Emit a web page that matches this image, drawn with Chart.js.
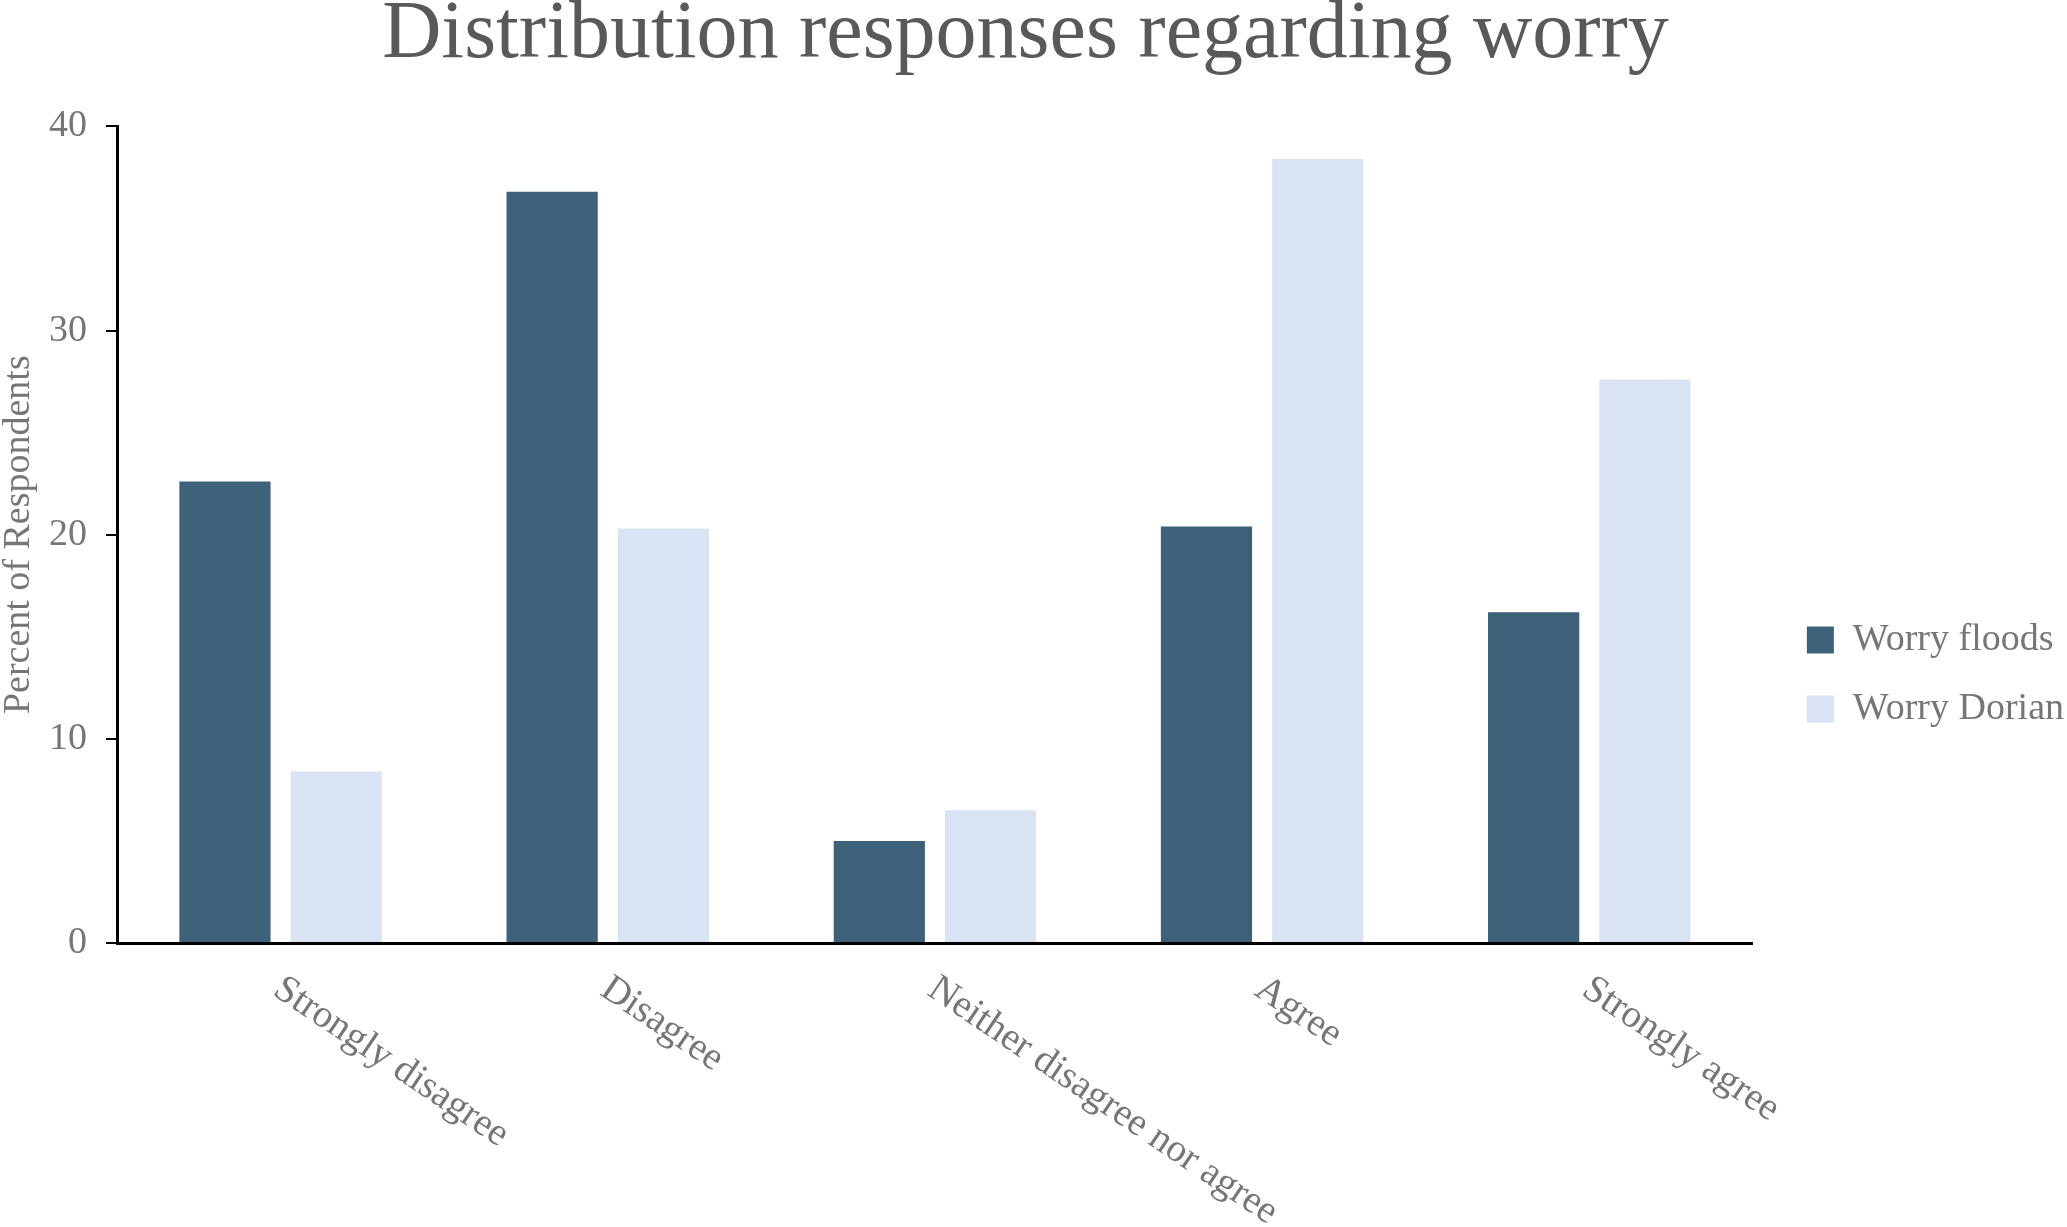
<!DOCTYPE html>
<html>
<head>
<meta charset="utf-8">
<script src="https://cdn.jsdelivr.net/npm/chart.js@4.4.1/dist/chart.umd.min.js"></script>
<style>
  html, body { margin: 0; padding: 0; background: #fff; }
  #wrap { width: 2067px; height: 1227px; }
</style>
</head>
<body>
<div id="wrap"><canvas id="worryChart"></canvas></div>
<script>
// categories and values
const categories = ["Strongly disagree", "Disagree", "Neither disagree nor agree", "Agree", "Strongly agree"];
const worryFloods = [22.6, 36.8, 5.0, 20.4, 16.2];
const worryDorian = [8.4, 20.3, 6.5, 38.4, 27.6];
const yTicks = [0, 10, 20, 30, 40];

const serif = "'Liberation Serif', 'Times New Roman', serif";
const grey = "#767676";

// x labels run down-right from the tick, which chart.js can't do on its own
const slantedLabels = {
  id: "slantedLabels",
  afterDraw(chart) {
    const ctx = chart.ctx;
    const xs = chart.scales.x;
    const angle = 34 * Math.PI / 180;
    ctx.save();
    ctx.font = "39px " + serif;
    ctx.fillStyle = grey;
    ctx.textAlign = "left";
    ctx.textBaseline = "alphabetic";
    categories.forEach((label, i) => {
      const x = xs.getPixelForValue(i);
      ctx.save();
      ctx.translate(x - 9, xs.top + 51);
      ctx.rotate(angle);
      ctx.fillText(label, 0, 0);
      ctx.restore();
    });
    ctx.restore();
  }
};

// nudge the legend down and right, like the original
const legendNudge = {
  id: "legendNudge",
  afterLayout(chart) {
    const lg = chart.legend;
    const pad = lg.options.labels.padding;
    const dx = (chart.chartArea.right + 54) - (lg.left + pad);
    const dy = 199;
    lg.left += dx; lg.right += dx;
    lg.top += dy; lg.bottom += dy;
  }
};

const ctx = document.getElementById("worryChart").getContext("2d");
const worryChart = new Chart(ctx, {
  type: "bar",
  data: {
    labels: categories,
    datasets: [
      {
        label: "Worry floods",
        data: worryFloods,
        backgroundColor: "#3d6178",
        borderWidth: 0,
        categoryPercentage: 0.68,
        barPercentage: 0.82,
      },
      {
        label: "Worry Dorian",
        data: worryDorian,
        backgroundColor: "#dae3f3",
        borderWidth: 0,
        categoryPercentage: 0.68,
        barPercentage: 0.82,
      },
    ],
  },
  options: {
    responsive: true,
    maintainAspectRatio: false,
    animation: false,
    layout: { padding: { left: 0, right: 16, top: 0, bottom: 276 } },
    plugins: {
      title: {
        display: true,
        text: "Distribution responses regarding worry",
        color: "#595959",
        font: { family: serif, size: 82, weight: "normal", lineHeight: 0.7 },
        padding: { top: 7, bottom: 62 },
      },
      legend: {
        position: "right",
        labels: {
          boxWidth: 27,
          boxHeight: 27,
          padding: 31,
          color: grey,
          font: { family: serif, size: 38 },
        },
      },
      tooltip: { enabled: false },
    },
    scales: {
      x: {
        z: 1,
        grid: { display: false },
        border: { display: true, color: "#000", width: 3 },
        ticks: { display: false },
      },
      y: {
        z: 1,
        min: 0,
        max: 40,
        afterBuildTicks: (axis) => {
          axis.ticks = yTicks.map((v) => ({ value: v }));
        },
        grid: {
          display: true,
          drawOnChartArea: false,
          drawTicks: true,
          tickLength: 11,
          color: "#000",
          lineWidth: 2,
        },
        border: { display: true, color: "#000", width: 3 },
        ticks: {
          color: grey,
          padding: 19,
          font: { family: serif, size: 38 },
        },
        title: {
          display: true,
          text: "Percent of Respondents",
          color: grey,
          font: { family: serif, size: 38, lineHeight: 1 },
          padding: { top: 0, bottom: -8 },
        },
      },
    },
  },
  plugins: [slantedLabels, legendNudge],
});
</script>
</body>
</html>
